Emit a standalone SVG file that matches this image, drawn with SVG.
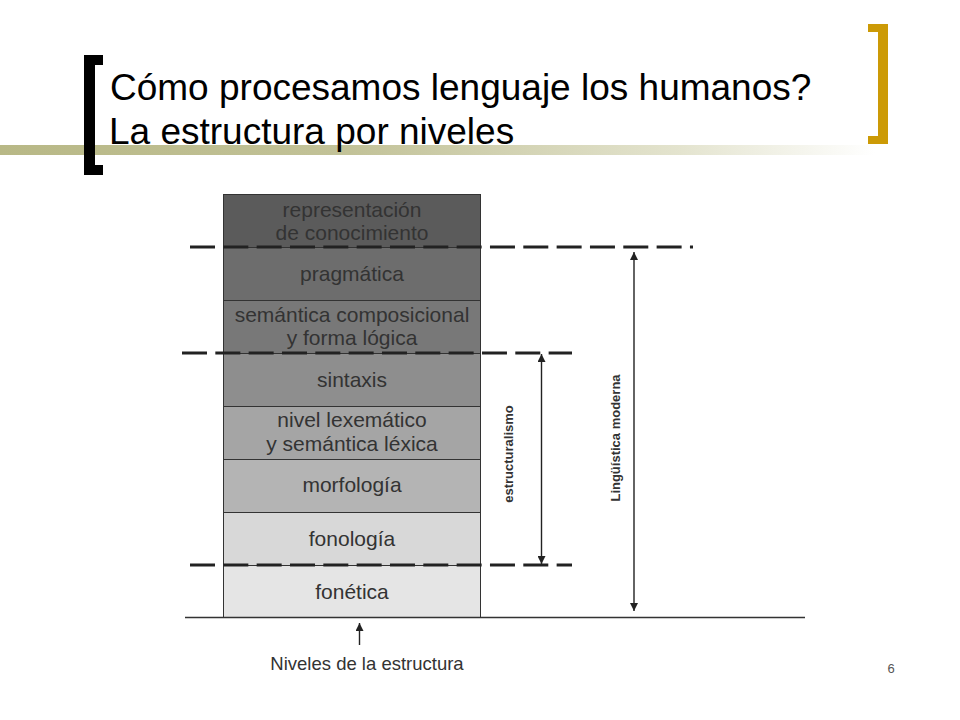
<svg xmlns="http://www.w3.org/2000/svg" width="960" height="720" viewBox="0 0 960 720">
<defs>
<linearGradient id="bar" x1="0" y1="0" x2="1" y2="0">
<stop offset="0" stop-color="#B8B886"/>
<stop offset="0.4" stop-color="#C2C298"/>
<stop offset="0.78" stop-color="#E4E4CF"/>
<stop offset="1" stop-color="#FFFFFF"/>
</linearGradient>
<marker id="ah" viewBox="0 0 10 10" refX="10" refY="5" markerWidth="8" markerHeight="8" markerUnits="userSpaceOnUse" orient="auto-start-reverse">
<path d="M0,0 L10,5 L0,10 Z" fill="#222"/>
</marker>
<style>
.title{font-family:"Liberation Sans",Arial,sans-serif;font-size:37px;fill:#000}
.lbl{font-family:"Liberation Sans",Arial,sans-serif;font-size:21px;fill:#333;text-anchor:middle}
.side{font-family:"Liberation Sans",Arial,sans-serif;font-size:13px;font-weight:bold;fill:#333;text-anchor:middle}
.sep{stroke:#333;stroke-width:1}
.dash{stroke:#222;stroke-width:3.2;stroke-dasharray:25 8.33;fill:none}
.conn{stroke:#222;stroke-width:1.4;fill:none}
</style>
</defs>
<rect x="0" y="0" width="960" height="720" fill="#fff"/>

<g id="header">
<rect x="0" y="145" width="875" height="10" fill="url(#bar)"/>
<path d="M84,55 H103 V65 H95 V165 H103 V175 H84 Z" fill="#000"/>
<path d="M868,24 H888 V144 H868 V136 H878 V32 H868 Z" fill="#CC9A06"/>
<text class="title" x="110" y="100">Cómo procesamos lenguaje los humanos?</text>
<text class="title" x="109" y="144">La estructura por niveles</text>
</g>

<g id="stack">
<g id="n-representacion">
<rect x="223" y="194" width="258" height="53" fill="#5b5b5b"/>
<text class="lbl" x="352" y="217">representación</text>
<text class="lbl" x="352" y="240">de conocimiento</text>
</g>
<g id="n-pragmatica">
<rect x="223" y="247" width="258" height="53" fill="#6d6d6d"/>
<text class="lbl" x="352" y="281">pragmática</text>
</g>
<g id="n-semantica">
<rect x="223" y="300" width="258" height="53" fill="#787878"/>
<text class="lbl" x="352" y="322">semántica composicional</text>
<text class="lbl" x="352" y="345">y forma lógica</text>
</g>
<g id="n-sintaxis">
<rect x="223" y="353" width="258" height="53" fill="#8e8e8e"/>
<text class="lbl" x="352" y="387">sintaxis</text>
</g>
<g id="n-lexematico">
<rect x="223" y="406" width="258" height="53" fill="#a5a5a5"/>
<text class="lbl" x="352" y="427">nivel lexemático</text>
<text class="lbl" x="352" y="451">y semántica léxica</text>
</g>
<g id="n-morfologia">
<rect x="223" y="459" width="258" height="53" fill="#b4b4b4"/>
<text class="lbl" x="352" y="492">morfología</text>
</g>
<g id="n-fonologia">
<rect x="223" y="512" width="258" height="53" fill="#d8d8d8"/>
<text class="lbl" x="352" y="546">fonología</text>
</g>
<g id="n-fonetica">
<rect x="223" y="565" width="258" height="53" fill="#e5e5e5"/>
<text class="lbl" x="352" y="599">fonética</text>
</g>
<g id="borders">
<line class="sep" x1="223.5" y1="194" x2="223.5" y2="618"/>
<line class="sep" x1="480.5" y1="194" x2="480.5" y2="618"/>
<line class="sep" x1="223" y1="194.5" x2="481" y2="194.5"/>
<line class="sep" x1="223" y1="247.5" x2="481" y2="247.5"/>
<line class="sep" x1="223" y1="300.5" x2="481" y2="300.5"/>
<line class="sep" x1="223" y1="353.5" x2="481" y2="353.5"/>
<line class="sep" x1="223" y1="406.5" x2="481" y2="406.5"/>
<line class="sep" x1="223" y1="459.5" x2="481" y2="459.5"/>
<line class="sep" x1="223" y1="512.5" x2="481" y2="512.5"/>
<line class="sep" x1="223" y1="565.5" x2="481" y2="565.5"/>
</g>
</g>

<g id="connectors">
<line class="dash" x1="190" y1="247" x2="693" y2="247"/>
<line class="dash" x1="182" y1="353" x2="572" y2="353"/>
<line class="dash" x1="190" y1="565" x2="572" y2="565"/>
<line x1="185" y1="617.5" x2="805" y2="617.5" stroke="#333" stroke-width="1.4"/>
<line class="conn" x1="541.5" y1="354" x2="541.5" y2="564" marker-start="url(#ah)" marker-end="url(#ah)"/>
<line class="conn" x1="634" y1="252" x2="634" y2="611" marker-start="url(#ah)" marker-end="url(#ah)"/>
<line class="conn" x1="359.5" y1="645" x2="359.5" y2="623" marker-end="url(#ah)"/>
</g>

<g id="labels">
<text class="side" transform="translate(513,454) rotate(-90)">estructuralismo</text>
<text class="side" transform="translate(620,438) rotate(-90)">Lingüística  moderna</text>
<text x="367" y="670" font-family="Liberation Sans, Arial, sans-serif" font-size="18.5" fill="#333" text-anchor="middle">Niveles de la estructura</text>
<text x="891" y="673" font-family="Liberation Sans, Arial, sans-serif" font-size="13" fill="#555" text-anchor="middle">6</text>
</g>
</svg>
